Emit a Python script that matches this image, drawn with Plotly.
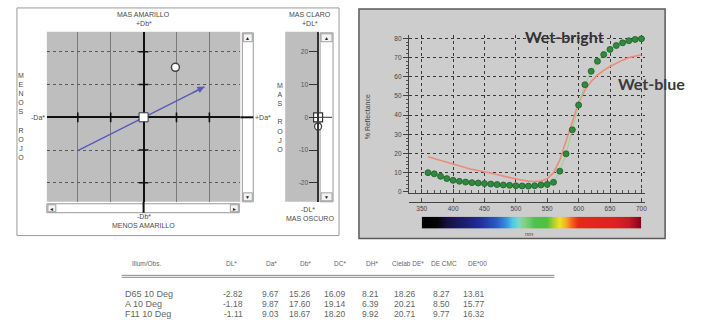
import numpy as np
import plotly.graph_objects as go

W, H = 702, 332


def fx(x):
    return x / W


def fy(y):
    return 1 - y / H


# ---------------- data ----------------
ab_grid_ticks = [-20, -10, 10, 20]
sample_da = 9.67
sample_db = 15.26
sample_dl = -2.82
hue_start_a, hue_start_b = -20.0, -10.2
hue_end_a, hue_end_b = 18.5, 9.3
dl_tickvals = [20, 10, 0, -10, -20]
dl_ticktext = ["20", "10", "0", "-10", "-20"]

wavelengths = list(range(360, 701, 10))
wet_bright = [10.0, 9.4, 8.1, 6.9, 6.0, 5.5, 5.1, 4.8, 4.6, 4.3, 4.1, 3.8,
              3.6, 3.4, 3.2, 3.1, 3.0, 3.2, 3.6, 3.9, 5.0, 10.8, 19.8, 32.3,
              45.2, 55.8, 62.8, 68.0, 71.5, 74.2, 76.2, 77.6, 78.7, 79.4, 79.7]
wet_blue = [18.3, 17.3, 16.3, 15.3, 14.3, 13.3, 12.4, 11.7, 11.1, 10.5, 9.8,
            9.0, 8.2, 7.4, 6.7, 6.1, 5.6, 5.4, 5.6, 6.8, 10.0, 16.5, 26.5,
            37.0, 46.5, 53.0, 57.5, 60.8, 63.3, 65.3, 67.0, 68.6, 69.9, 70.8,
            71.4]
nm_ticks = [350, 400, 450, 500, 550, 600, 650, 700]
refl_ticks = [0, 10, 20, 30, 40, 50, 60, 70, 80]

spectrum_wl = [350, 375, 390, 420, 445, 470, 485, 495, 505, 515, 530, 550,
               560, 570, 580, 590, 600, 660, 680, 700]
spectrum_col = ["#000000", "#050508", "#151040", "#1c1f70", "#22309a",
                "#2a5cc0", "#3a90dc", "#50c8e8", "#7dd8c0", "#80d080",
                "#50c050", "#50c040", "#a8d030", "#f0e020", "#f0b020",
                "#f06020", "#e82818", "#e02020", "#c81828", "#800818"]

table_columns = ["DL*", "Da*", "Db*", "DC*", "DH*", "Cielab DE*", "DE CMC", "DE*00"]
table_rows = ["D65 10 Deg", "A 10 Deg", "F11 10 Deg"]
table_values = [
    [-2.82, 9.67, 15.26, 16.09, 8.21, 18.26, 8.27, 13.81],
    [-1.18, 9.87, 17.60, 19.14, 6.39, 20.21, 8.50, 15.77],
    [-1.11, 9.03, 18.67, 18.20, 9.92, 20.71, 9.77, 16.32],
]

# ---------------- figure ----------------
fig = go.Figure()
shapes = []
ann = []
TXT = "#4a4a4a"
FONT = "Liberation Sans"


def rect(x0, y0, x1, y1, fill, line=None, lw=1, layer="below"):
    shapes.append(dict(type="rect", xref="paper", yref="paper",
                       x0=fx(x0), x1=fx(x1), y0=fy(y1), y1=fy(y0),
                       fillcolor=fill, layer=layer,
                       line=dict(color=line or "rgba(0,0,0,0)", width=lw if line else 0)))


def pline(x0, y0, x1, y1, color, width=1, layer="above"):
    shapes.append(dict(type="line", xref="paper", yref="paper",
                       x0=fx(x0), x1=fx(x1), y0=fy(y0), y1=fy(y1),
                       layer=layer, line=dict(color=color, width=width)))


def text(x, y, s, size=7, color=TXT, xanchor="center", family=FONT, angle=0):
    ann.append(dict(x=fx(x), y=fy(y), xref="paper", yref="paper", text=s,
                    showarrow=False, xanchor=xanchor, yanchor="middle",
                    textangle=angle,
                    font=dict(size=size, color=color, family=family)))


# ---- left panel backgrounds ----
rect(17, 8, 340, 237, "white", "#9a9a9a", 1)
rect(47, 32, 241, 203, "#bebebe")
rect(243, 33, 254, 203, "white", "#9a9a9a", 1)
rect(47, 205, 240, 214, "white", "#9a9a9a", 1)
rect(286, 32, 320, 203, "#bebebe")
rect(321, 33, 334, 203, "white", "#9a9a9a", 1)
# scroll buttons
for (x0, y0, x1, y1, s) in [(244, 34, 253, 42, "▲"), (244, 194, 253, 202, "▼"),
                            (48, 206, 56, 213, "◄"), (231, 206, 239, 213, "►"),
                            (322, 34, 333, 42, "▲"), (322, 194, 333, 202, "▼")]:
    rect(x0, y0, x1, y1, "#f4f4f4", "#8a8a8a", 0.8, layer="above")
    text((x0 + x1) / 2, (y0 + y1) / 2 + 0.5, s, size=5, color="#222")
# zero-line extensions
pline(241, 118, 254, 118, "#111", 2)
pline(144, 203, 144, 214, "#111", 2)
pline(320, 118, 333, 118, "#333", 1)

# ---- right panel background ----
rect(360, 9, 667, 240, "#cdcdcd", "#5a5a5a", 1.5)

# ---- left panel labels ----
text(144, 15, "MAS AMARILLO")
text(144, 24, "+Db*")
text(144, 218, "-Db*")
text(144, 227, "MENOS AMARILLO")
text(38, 118, "-Da*")
text(264, 118, "+Da*")
text(21, 117, "M<br>E<br>N<br>O<br>S<br> <br>R<br>O<br>J<br>O", size=7)
text(281, 118, "M<br>A<br>S<br> <br>R<br>O<br>J<br>O", size=7)
text(311, 15, "MAS CLARO")
text(311, 24, "+DL*")
text(309, 211, "-DL*")
text(311, 220, "MAS OSCURO")

# ---- a*b* plot traces ----
fig.add_trace(go.Scatter(x=ab_grid_ticks, y=[0] * len(ab_grid_ticks), mode="markers",
                         marker=dict(symbol="line-ns", size=7, line=dict(width=1.6, color="#111")),
                         xaxis="x", yaxis="y", hoverinfo="skip"))
fig.add_trace(go.Scatter(x=[0] * len(ab_grid_ticks), y=ab_grid_ticks, mode="markers",
                         marker=dict(symbol="line-ew", size=7, line=dict(width=1.6, color="#111")),
                         xaxis="x", yaxis="y", hoverinfo="skip"))
fig.add_trace(go.Scatter(x=[hue_start_a, hue_end_a], y=[hue_start_b, hue_end_b], mode="lines",
                         line=dict(color="#5a5ab8", width=1.4), xaxis="x", yaxis="y"))
ann.append(dict(x=hue_end_a, y=hue_end_b, ax=hue_end_a - 4, ay=hue_end_b - 2.0,
                xref="x", yref="y", axref="x", ayref="y", showarrow=True,
                arrowhead=2, arrowsize=1, arrowwidth=1.4, arrowcolor="#5a5ab8", text=""))
fig.add_trace(go.Scatter(x=[0], y=[0], mode="markers",
                         marker=dict(symbol="square", size=9, color="white",
                                     line=dict(color="#333", width=1)), xaxis="x", yaxis="y"))
fig.add_trace(go.Scatter(x=[sample_da], y=[sample_db], mode="markers",
                         marker=dict(symbol="circle", size=8, color="white",
                                     line=dict(color="#444", width=1.5)), xaxis="x", yaxis="y"))

# ---- DL slider traces ----
SLIDER_TRACK = 33
fig.add_trace(go.Scatter(x=[SLIDER_TRACK], y=[sample_dl], mode="markers",
                         marker=dict(symbol="circle", size=7, color="white",
                                     line=dict(color="#444", width=1.3)), xaxis="x2", yaxis="y2"))
fig.add_trace(go.Scatter(x=[SLIDER_TRACK], y=[0], mode="markers",
                         marker=dict(symbol="square", size=9, color="white",
                                     line=dict(color="#333", width=1.2)), xaxis="x2", yaxis="y2"))

# ---- spectral traces ----
fig.add_trace(go.Scatter(x=wavelengths, y=wet_blue, mode="lines",
                         line=dict(color="#f08a7a", width=1.6), xaxis="x3", yaxis="y3"))
fig.add_trace(go.Scatter(x=wavelengths, y=wet_bright, mode="lines+markers",
                         line=dict(color="#8fd68f", width=1),
                         marker=dict(size=6, color="#2e8b3e", line=dict(color="#1d5e28", width=0.8)),
                         xaxis="x3", yaxis="y3"))
# invisible trace so the lower wavelength axis (x4) gets drawn
fig.add_trace(go.Scatter(x=nm_ticks, y=[None] * len(nm_ticks), mode="markers",
                         xaxis="x4", yaxis="y3", hoverinfo="skip", showlegend=False))

# spectrum strip
strip_x = np.arange(350, 701, 1)
cs = [[(w - 350) / 350, c] for w, c in zip(spectrum_wl, spectrum_col)]
fig.add_trace(go.Heatmap(x=strip_x, y=[0], z=[strip_x], colorscale=cs, zmin=350, zmax=700,
                         showscale=False, xaxis="x5", yaxis="y5", hoverinfo="skip"))

text(566, 37, "<b>Wet-bright</b>", size=16, color="#333", family="Lato")
text(653, 84, "<b>Wet-blue</b>", size=16, color="#3a3a3a", family="Lato")
text(368, 117, "% Reflectance", size=7, color="#444", angle=-90)
text(531, 235, "nm", size=6, color="#444")

# ---- table ----
TCOL = "#666"
header_x = [232, 272, 306, 341, 373, 409, 445, 479]
value_right = [246, 282, 314, 349, 382, 419, 453, 488]
row_y = [296, 306, 316]
text(147, 265, "Illum/Obs.", size=6.5, color=TCOL)
for hx, name in zip(header_x, table_columns):
    text(hx, 265, name, size=6.5, color=TCOL)
pline(122, 277, 556, 277, "#8a8a8a", 1)
pline(122, 279, 556, 279, "#8a8a8a", 1)
for ry, rname, vals in zip(row_y, table_rows, table_values):
    text(123, ry, rname, size=9, color=TCOL, xanchor="left")
    for vx, v in zip(value_right, vals):
        text(vx, ry, f"{v:.2f}", size=8.5, color=TCOL, xanchor="right")

# ---------------- layout ----------------
fig.update_layout(
    width=W, height=H, margin=dict(l=0, r=0, t=0, b=0),
    paper_bgcolor="white", plot_bgcolor="rgba(0,0,0,0)",
    showlegend=False, shapes=shapes, annotations=ann,
    xaxis=dict(domain=[fx(47), fx(241)], range=[-29.4, 29.4], anchor="y",
               tick0=0, dtick=10, showgrid=True, gridcolor="#7a7a7a", gridwidth=1,
               zeroline=True, zerolinecolor="#111", zerolinewidth=2,
               showticklabels=False, ticks="", fixedrange=True),
    yaxis=dict(domain=[fy(203), fy(32)], range=[-25.8, 26.1], anchor="x",
               tick0=0, dtick=10, showgrid=True, gridcolor="#5a5a5a", griddash="dot",
               gridwidth=1, zeroline=True, zerolinecolor="#111", zerolinewidth=2,
               showticklabels=False, ticks="", fixedrange=True),
    xaxis2=dict(domain=[fx(286), fx(334)], range=[0, 48], anchor="y2", visible=False),
    yaxis2=dict(domain=[fy(203), fy(32)], range=[-25.8, 26.1], anchor="free",
                position=fx(286 + SLIDER_TRACK), side="left",
                showline=True, linecolor="#333", linewidth=1.5, ticks="outside",
                ticklen=8, tickcolor="#333", tickwidth=1, tickvals=dl_tickvals,
                ticktext=dl_ticktext, tickfont=dict(size=6.5, color="#555", family=FONT),
                showgrid=False, zeroline=False),
    xaxis3=dict(domain=[fx(410), fx(647)], range=[329.5, 706], anchor="y3",
                tickvals=nm_ticks, showgrid=True, gridcolor="#3a3a3a", griddash="dot",
                gridwidth=1, showticklabels=False, showline=True, linecolor="#444",
                ticks="inside", ticklen=4, tickcolor="#444", zeroline=False,
                minor=dict(dtick=10, tick0=350, ticks="inside", ticklen=3,
                           tickcolor="#555", showgrid=False)),
    yaxis3=dict(domain=[fy(194), fy(35)], range=[-0.5, 81.8], anchor="x3",
                tickvals=refl_ticks, showgrid=True, gridcolor="#3a3a3a", griddash="dot",
                gridwidth=1, showline=True, linecolor="#444", ticks="outside",
                ticklen=5, tickcolor="#444", zeroline=False,
                tickfont=dict(size=6.5, color="#444", family=FONT),
                minor=dict(dtick=2, ticks="outside", ticklen=2, tickcolor="#555",
                           showgrid=False)),
    xaxis4=dict(overlaying="x3", anchor="free", position=fy(203), side="bottom",
                range=[329.5, 706], tickvals=nm_ticks,
                ticktext=[str(t) for t in nm_ticks], showline=True, linecolor="#444",
                ticks="inside", ticklen=4, tickcolor="#444", showgrid=False,
                zeroline=False, tickfont=dict(size=6.5, color="#444", family=FONT)),
    xaxis5=dict(domain=[fx(423), fx(643)], range=[350, 700], anchor="y5", visible=False),
    yaxis5=dict(domain=[fy(230), fy(218)], range=[-0.5, 0.5], anchor="x5", visible=False),
)

fig.write_html("out.html")
